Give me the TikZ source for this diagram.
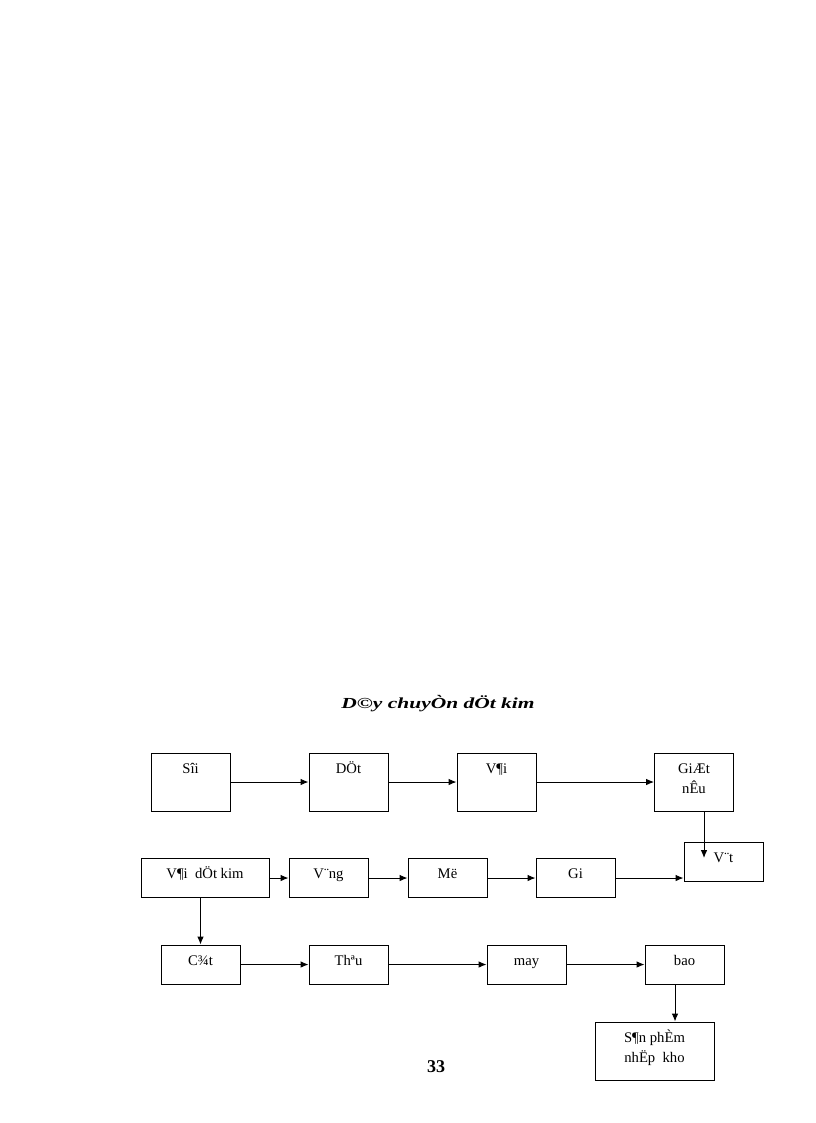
\documentclass[tikz,border=0pt]{standalone}
\usepackage{fontspec}
\setmainfont{Liberation Serif}
\newfontfamily\titlefont[FakeStretch=1.4]{Liberation Serif}
\usetikzlibrary{arrows.meta}
\tikzset{>={Latex[length=6pt,width=5pt]}}
\begin{document}
\begin{tikzpicture}[x=0.75pt, y=-0.75pt, line width=0.75pt]
                % one unit = one pixel of the scanned page
                \useasboundingbox (0,0) rectangle (816,1123);
                \tikzstyle{every node}=[rectangle, draw=black, inner sep=0pt, align=center, font=\fontsize{11}{15}\selectfont]
                \tikzstyle{tall}=[minimum width=59.25pt, text height=15pt, text depth=28.5pt]
                \tikzstyle{flat}=[minimum width=59.25pt, text height=15pt, text depth=14.25pt]
                \tikzstyle{twoline}=[text height=30pt, text depth=13.5pt]

                \node[draw=none, anchor=base, font=\titlefont\bfseries\itshape\fontsize{11.5}{14}\selectfont] (T) at (438,708) {D©y chuyÒn dÖt kim};

                % row 1
                \node[tall] (S) at (190.5,782) {Sîi};
                \node[tall] (D) at (348.5,782) {DÖt};
                \node[tall] (V) at (496.5,782) {V¶i};
                \node[tall, twoline] (G) at (694,782) {GiÆt\\nÊu};
                \draw[->] (S) -- (D);
                \draw[->] (D) -- (V);
                \draw[->] (V) -- (G);

                \node[flat] (Vt) at (723.5,861.5) {V¨t};
                \coordinate (vt) at (704,858);
                \draw[->] (G.south -| vt) -- (vt);

                % row 2
                \node[flat, minimum width=96pt] (VK) at (205,878) {V¶i~ dÖt kim};
                \node[flat] (Vg) at (328.5,878) {V¨ng};
                \node[flat] (M) at (447.5,878) {Më};
                \node[flat] (Gi) at (575.5,878) {Gi};
                \draw[->] (VK) -- (Vg);
                \draw[->] (Vg) -- (M);
                \draw[->] (M) -- (Gi);
                \draw[->] (Gi.east) -- (Gi.east -| Vt.west);

                % row 3
                \node[flat] (C) at (200.5,964.5) {C¾t};
                \node[flat] (Th) at (348.5,964.5) {Thªu};
                \node[flat] (My) at (526.5,964.5) {may};
                \node[flat] (B) at (684.5,964.5) {bao};
                \draw[->] (VK.south -| C.north) -- (C.north);
                \draw[->] (C) -- (Th);
                \draw[->] (Th) -- (My);
                \draw[->] (My) -- (B);

                \node[tall, twoline, minimum width=89.25pt] (SP) at (654.5,1051) {S¶n phÈm\\nhËp~ kho};
                \coordinate (bs) at (675,0);
                \draw[->] (B.south -| bs) -- (SP.north -| bs);

                \node[draw=none, anchor=base, font=\fontsize{13.5}{16}\selectfont\bfseries] (P) at (436,1072) {33};
\end{tikzpicture}
\end{document}
